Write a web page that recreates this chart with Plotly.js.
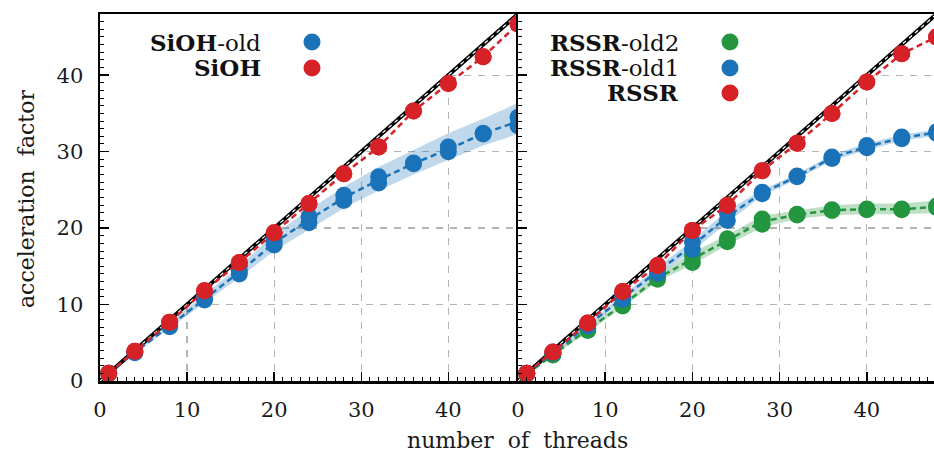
<!DOCTYPE html>
<html>
<head>
<meta charset="utf-8">
<script src="https://cdn.plot.ly/plotly-3.0.1.min.js"></script>
<style>html,body{margin:0;padding:0;background:#fff;}#chart{width:934px;height:456px;}</style>
</head>
<body>
<div id="chart"></div>
<script>
// ---- data ----
const threads = [1, 4, 8, 12, 16, 20, 24, 28, 32, 36, 40, 44, 48];
const ideal = [0, 48];

// left panel: SiOH
const siohNew      = [1.0, 3.9, 7.7, 11.8, 15.5, 19.4, 23.2, 27.1, 30.6, 35.3, 38.9, 42.4, 46.7];
const siohOldLo    = [1.0, 3.7, 7.1, 10.6, 14.0, 17.8, 20.7, 23.6, 25.9, 28.4, 30.0, 32.3, 33.4];
const siohOldHi    = [1.0, 3.8, 7.3, 10.9, 14.5, 18.3, 21.5, 24.3, 26.7, 28.5, 30.6, 32.4, 34.5];
const siohOldBandLo = [0.95, 3.6, 6.9, 10.2, 13.5, 17.0, 19.8, 22.6, 24.9, 27.0, 28.9, 30.8, 32.3];
const siohOldBandHi = [1.05, 3.9, 7.6, 11.3, 15.0, 19.2, 22.4, 25.4, 28.0, 30.2, 32.4, 34.3, 36.4];

// right panel: RSSR
const rssrNew      = [1.0, 3.8, 7.6, 11.7, 15.1, 19.7, 23.0, 27.5, 31.1, 35.0, 39.1, 42.8, 45.0];
const rssrOld1Lo   = [1.0, 3.7, 7.2, 10.7, 14.1, 17.2, 21.0, 24.5, 26.7, 29.1, 30.5, 31.7, 32.4];
const rssrOld1Hi   = [1.0, 3.7, 7.4, 11.0, 14.6, 18.2, 22.0, 24.7, 26.8, 29.3, 30.8, 31.9, 32.6];
const rssrOld1BandLo = [0.95, 3.5, 7.0, 10.5, 13.8, 17.0, 20.7, 24.2, 26.4, 28.8, 30.2, 31.4, 32.1];
const rssrOld1BandHi = [1.05, 3.9, 7.6, 11.2, 14.9, 18.4, 22.3, 25.0, 27.1, 29.6, 31.1, 32.2, 32.9];
const rssrOld2Lo   = [0.9, 3.4, 6.6, 9.8, 13.3, 15.5, 18.2, 20.5, 21.7, 22.3, 22.4, 22.4, 22.7];
const rssrOld2Hi   = [0.9, 3.5, 6.9, 10.1, 13.6, 16.4, 18.6, 21.2, 21.8, 22.4, 22.5, 22.5, 22.9];
const rssrOld2BandLo = [0.85, 3.3, 6.4, 9.6, 13.0, 15.2, 17.8, 20.1, 21.2, 21.7, 21.8, 21.8, 22.0];
const rssrOld2BandHi = [0.95, 3.6, 7.1, 10.3, 13.9, 16.8, 19.1, 21.6, 22.3, 23.0, 23.2, 23.2, 23.6];

const legendLeft  = ['<b>SiOH</b>-old', '<b>SiOH</b>'];
const legendRight = ['<b>RSSR</b>-old2', '<b>RSSR</b>-old1', '<b>RSSR</b>'];

// ---- styles ----
const RED = '#d62226', BLUE = '#1a72b8', GREEN = '#23963f';
const BLUE_BAND = 'rgba(26,114,184,0.28)', GREEN_BAND = 'rgba(35,150,63,0.30)';
const FONT = 'DejaVu Serif';
const MS = 17;

const mean = (a, b) => a.map((v, i) => (v + b[i]) / 2);

function whiteAbove(xa, ya) {
  return {x: [ideal[0], ideal[1], ideal[0]], y: [ideal[0], ideal[1], ideal[1]],
    xaxis: xa, yaxis: ya, mode: 'lines', fill: 'toself', fillcolor: '#ffffff',
    line: {width: 0}, hoverinfo: 'skip'};
}
function idealLines(xa, ya) {
  return [
    {x: ideal, y: ideal, xaxis: xa, yaxis: ya, mode: 'lines', line: {color: '#000', width: 4}, hoverinfo: 'skip'},
    {x: ideal, y: ideal, xaxis: xa, yaxis: ya, mode: 'lines', line: {color: '#ffffff', width: 1.2, dash: '4px,4px'}, hoverinfo: 'skip'}
  ];
}
function band(lo, hi, color, xa, ya) {
  return [
    {x: threads, y: lo, xaxis: xa, yaxis: ya, mode: 'lines', line: {width: 0, color: color}, hoverinfo: 'skip'},
    {x: threads, y: hi, xaxis: xa, yaxis: ya, mode: 'lines', line: {width: 0, color: color}, fill: 'tonexty', fillcolor: color, hoverinfo: 'skip'}
  ];
}
function series(lo, hi, color, xa, ya) {
  return [
    {x: threads, y: mean(lo, hi), xaxis: xa, yaxis: ya, mode: 'lines', line: {color: color, width: 2.5, dash: '6px,4px'}},
    {x: threads, y: lo, xaxis: xa, yaxis: ya, mode: 'markers', marker: {color: color, size: MS}},
    {x: threads, y: hi, xaxis: xa, yaxis: ya, mode: 'markers', marker: {color: color, size: MS}}
  ];
}

const traces = [].concat(
  [whiteAbove('x', 'y')],
  band(siohOldBandLo, siohOldBandHi, BLUE_BAND, 'x', 'y'),
  idealLines('x', 'y'),
  series(siohOldLo, siohOldHi, BLUE, 'x', 'y'),
  series(siohNew, siohNew, RED, 'x', 'y'),
  [whiteAbove('x2', 'y2')],
  band(rssrOld2BandLo, rssrOld2BandHi, GREEN_BAND, 'x2', 'y2'),
  band(rssrOld1BandLo, rssrOld1BandHi, BLUE_BAND, 'x2', 'y2'),
  idealLines('x2', 'y2'),
  series(rssrOld2Lo, rssrOld2Hi, GREEN, 'x2', 'y2'),
  series(rssrOld1Lo, rssrOld1Hi, BLUE, 'x2', 'y2'),
  series(rssrNew, rssrNew, RED, 'x2', 'y2')
);

// ---- layout ----
const W = 934, H = 456, ML = 100, MR = 0, MT = 14, MB = 75;
const PW = W - ML - MR, PH = H - MT - MB;
const xp = px => (px - ML) / PW;
const yp = py => (H - MB - py) / PH;
const split = (518 - ML) / PW;

const tickFont = {family: FONT, size: 21, color: '#1a1a1a'};
function axisBase(extra) {
  return Object.assign({
    showline: true, linecolor: '#000', linewidth: 2.5,
    ticks: 'inside', ticklen: 9, tickwidth: 1.5, tickcolor: '#000',
    minor: {ticks: 'inside', dtick: 1, ticklen: 4, tickwidth: 1, tickcolor: '#000', showgrid: false},
    tick0: 0, dtick: 10,
    showgrid: true, gridcolor: '#b4b4b4', gridwidth: 1.2, griddash: '7px,7px',
    zeroline: false, tickfont: tickFont, fixedrange: true
  }, extra);
}

const LEG = 23;
const annotations = [];
const shapes = [];
const rowsY = [42, 68, 93];
legendLeft.forEach((t, i) => {
  annotations.push({text: t, xref: 'paper', yref: 'paper', x: xp(263), y: yp(rowsY[i]),
    xanchor: 'right', yanchor: 'middle', showarrow: false, font: {family: FONT, size: LEG, color: '#111'}});
});
[BLUE, RED].forEach((c, i) => shapes.push({type: 'circle', xref: 'paper', yref: 'paper',
  xsizemode: 'pixel', ysizemode: 'pixel', xanchor: xp(312), yanchor: yp(rowsY[i]),
  x0: -8.5, x1: 8.5, y0: -8.5, y1: 8.5, fillcolor: c, line: {width: 0}}));
legendRight.forEach((t, i) => {
  annotations.push({text: t, xref: 'paper', yref: 'paper', x: xp(681), y: yp(rowsY[i]),
    xanchor: 'right', yanchor: 'middle', showarrow: false, font: {family: FONT, size: LEG, color: '#111'}});
});
[GREEN, BLUE, RED].forEach((c, i) => shapes.push({type: 'circle', xref: 'paper', yref: 'paper',
  xsizemode: 'pixel', ysizemode: 'pixel', xanchor: xp(730), yanchor: yp(rowsY[i]),
  x0: -8.5, x1: 8.5, y0: -8.5, y1: 8.5, fillcolor: c, line: {width: 0}}));

annotations.push({text: 'acceleration  factor', xref: 'paper', yref: 'paper', x: xp(26), y: yp(199),
  xanchor: 'center', yanchor: 'middle', textangle: -90, showarrow: false,
  font: {family: FONT, size: 22, color: '#1a1a1a'}});
annotations.push({text: 'number  of  threads', xref: 'paper', yref: 'paper', x: xp(517), y: yp(440),
  xanchor: 'center', yanchor: 'middle', showarrow: false,
  font: {family: FONT, size: 22, color: '#1a1a1a'}});

const layout = {
  width: W, height: H,
  margin: {l: ML, r: MR, t: MT, b: MB, pad: 0},
  paper_bgcolor: '#fff', plot_bgcolor: '#fff',
  showlegend: false,
  font: {family: FONT},
  xaxis: axisBase({domain: [0, split], range: [0, 48], anchor: 'y', mirror: true, ticklabelstandoff: 8}),
  yaxis: axisBase({domain: [0, 1], range: [0, 48], anchor: 'x', mirror: true, ticklabelstandoff: 10}),
  xaxis2: axisBase({domain: [split, 1], range: [0, 47.7], anchor: 'y2', mirror: true, ticklabelstandoff: 8}),
  yaxis2: axisBase({domain: [0, 1], range: [0, 48], anchor: 'x2', mirror: false, showticklabels: false}),
  annotations: annotations,
  shapes: shapes
};

Plotly.newPlot('chart', traces, layout, {staticPlot: true, displayModeBar: false});
</script>
</body>
</html>
